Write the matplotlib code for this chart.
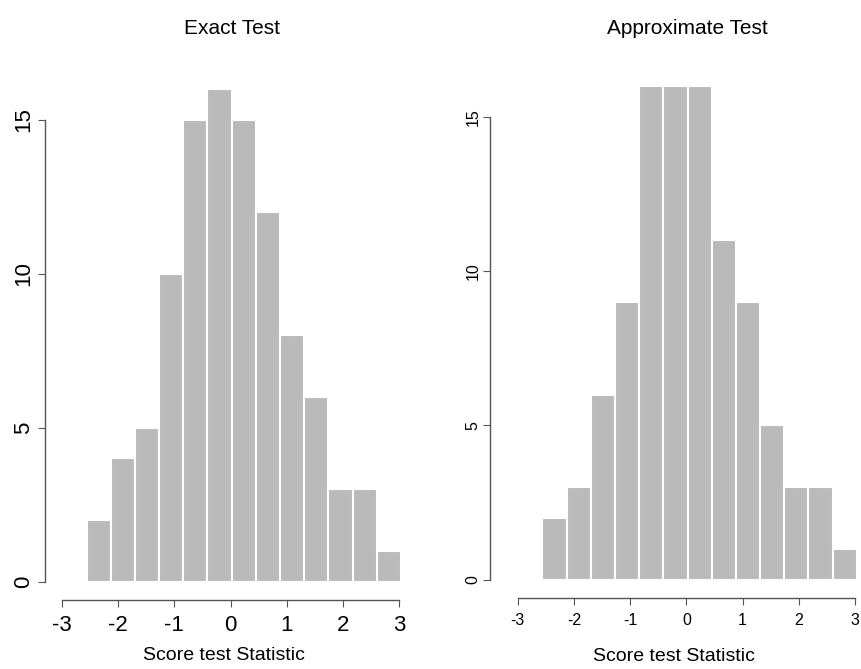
import numpy as np
import matplotlib.pyplot as plt

plt.rcParams['font.family'] = ['Liberation Sans', 'DejaVu Sans']
plt.rcParams['axes.unicode_minus'] = False

# bin edges of the histogram (13 bins)
edges = [-2.56, -2.13, -1.70, -1.27, -0.84, -0.41, 0.02, 0.45, 0.88, 1.31, 1.74, 2.17, 2.60, 3.03]
exact_counts = [2, 4, 5, 10, 15, 16, 15, 12, 8, 6, 3, 3, 1]
approx_counts = [2, 3, 6, 9, 16, 16, 16, 11, 9, 5, 3, 3, 1]
x_ticks = [-3, -2, -1, 0, 1, 2, 3]
y_ticks = [0, 5, 10, 15]

fig = plt.figure(figsize=(8.62, 6.69), dpi=100)
W, H = 862, 669

def make_ax(left_px, right_px, top_px, bottom_px):
    return fig.add_axes([left_px / W, 1 - bottom_px / H, (right_px - left_px) / W, (bottom_px - top_px) / H])

def draw_hist(ax, counts, tick_fs, label_fs, ypad, lpad, xlim, ylim):
    left = np.array(edges[:-1])
    widths = np.diff(edges)
    ax.bar(left, counts, width=widths, align='edge', color='#bababa', edgecolor='white', linewidth=1.5)
    ax.set_xlim(*xlim)
    ax.set_ylim(*ylim)
    ax.spines['top'].set_visible(False)
    ax.spines['right'].set_visible(False)
    ax.spines['left'].set_bounds(0, 15)
    ax.spines['bottom'].set_bounds(-3, 3)
    for s in ['left', 'bottom']:
        ax.spines[s].set_color('#555555')
        ax.spines[s].set_linewidth(1.0)
    ax.set_xticks(x_ticks)
    ax.set_yticks(y_ticks)
    ax.set_yticklabels([str(v) for v in y_ticks], rotation=90, va='center')
    ax.tick_params(axis='both', direction='out', length=5, color='#555555', labelsize=tick_fs)
    ax.tick_params(axis='y', pad=ypad)
    ax.tick_params(axis='x', pad=6)
    ax.set_xlabel('Score test Statistic', fontsize=label_fs, labelpad=lpad)

ax1 = make_ax(45, 402, 80, 600)
draw_hist(ax1, exact_counts, 16, 14, 3, 8, (-3.3, 3.05), (-0.6, 16.3))

ax2 = make_ax(490, 858, 77, 598)
draw_hist(ax2, approx_counts, 11.5, 14, 2, 14, (-3.49, 3.05), (-0.6, 16.3))

fig.text(232 / W, 1 - 28 / H, 'Exact Test', fontsize=15, ha='center', va='center')
fig.text(687 / W, 1 - 28 / H, 'Approximate Test', fontsize=15, ha='center', va='center')

fig.savefig('out.png', dpi=100)
